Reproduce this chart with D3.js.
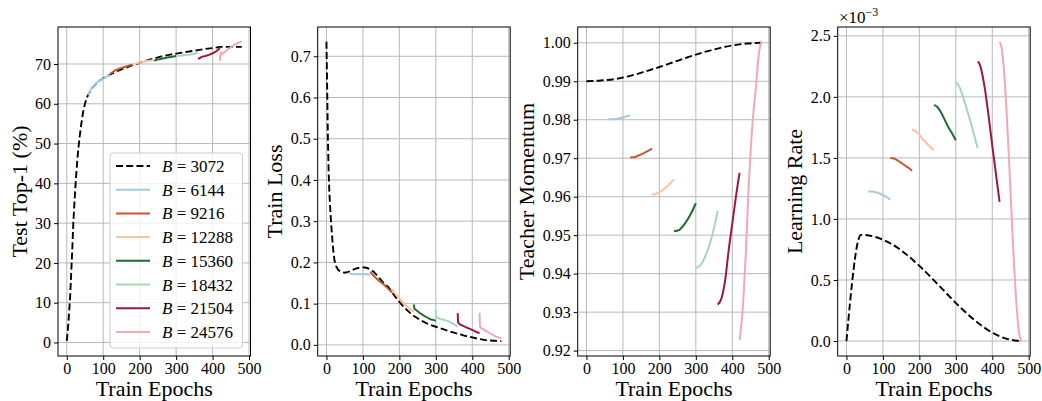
<!DOCTYPE html>
<html>
<head>
<meta charset="utf-8">
<script src="https://cdn.jsdelivr.net/npm/d3@7"></script>
<style>
  body { margin: 0; background: #fff; }
  svg { display: block; font-family: "Liberation Serif", "Times New Roman", serif; }
</style>
</head>
<body>
<svg width="1042" height="401"></svg>
<script>
// batch sizes, index 0 is the dashed baseline
const batchSizes = [3072, 6144, 9216, 12288, 15360, 18432, 21504, 24576];
const colors = ['#000000', '#a6c8e2', '#c9562c', '#fdc39f', '#1f6b34', '#a5d8b8', '#9c1a35', '#f4a8b2'];

// Test top-1 (%) as [epoch, value]
const top1 = [
  [[0,0.4],[3,3],[6,7],[9,11],[12,17],[15,23],[18,30],[21,35],[25,41],[30,47],[35,51.5],[40,55],[45,58],[50,60],[55,61.5],[60,62.5],[70,64],[80,65],[90,65.8],[100,66.4],[120,67.4],[140,68.3],[160,69],[180,69.7],[200,70.3],[220,70.9],[240,71.4],[260,71.9],[280,72.3],[300,72.6],[320,72.9],[340,73.2],[360,73.5],[380,73.8],[400,74.0],[420,74.3],[440,74.3],[460,74.3],[480,74.3]],
  [[58,62.2],[62,62.9],[66,63.6],[70,64.0],[75,64.6],[80,65.0],[85,65.5],[90,65.7],[95,66.1],[100,66.3],[105,66.6],[110,66.8],[115,67.1],[120,67.2]],
  [[120,67.6],[125,67.9],[130,68.2],[135,68.5],[140,68.6],[145,68.9],[150,69.0],[160,69.3],[170,69.6],[180,69.9]],
  [[180,69.8],[185,70.0],[190,70.1],[195,70.3],[200,70.3],[210,70.5],[220,70.8],[230,70.9],[240,71.1]],
  [[240,70.8],[245,71.0],[250,71.1],[260,71.3],[270,71.5],[280,71.7],[290,71.8],[300,72.0]],
  [[300,72.0],[310,72.1],[320,72.2],[330,72.3],[340,72.4],[350,72.6],[360,72.8]],
  [[360,71.3],[365,71.5],[370,71.8],[380,72.0],[390,72.3],[400,72.7],[410,73.2],[415,73.6],[420,74.0]],
  [[420,70.8],[421,72.2],[423,72.8],[426,72.4],[430,72.9],[435,73.1],[440,73.6],[450,74.2],[460,74.8],[470,75.3],[480,75.7]]
];

// Train loss
const trainLoss = [
  [[0,0.735],[2,0.62],[4,0.5],[6,0.42],[8,0.37],[11,0.32],[14,0.28],[18,0.235],[22,0.205],[27,0.19],[33,0.181],[40,0.177],[50,0.175],[60,0.177],[70,0.181],[80,0.185],[90,0.187],[100,0.188],[110,0.187],[120,0.183],[130,0.177],[140,0.167],[150,0.157],[160,0.147],[170,0.14],[180,0.128],[190,0.115],[200,0.104],[210,0.094],[220,0.085],[230,0.077],[240,0.07],[260,0.059],[280,0.05],[300,0.044],[320,0.038],[340,0.032],[360,0.027],[380,0.022],[400,0.018],[420,0.014],[440,0.011],[460,0.01],[480,0.009]],
  [[60,0.174],[70,0.172],[80,0.171],[90,0.172],[100,0.171],[110,0.172],[120,0.170]],
  [[120,0.177],[125,0.172],[135,0.163],[145,0.155],[155,0.148],[165,0.14],[175,0.131],[180,0.127]],
  [[180,0.135],[185,0.128],[195,0.118],[205,0.108],[215,0.098],[225,0.09],[235,0.083],[240,0.08]],
  [[240,0.098],[241,0.088],[245,0.085],[255,0.078],[265,0.072],[275,0.067],[285,0.062],[295,0.06],[300,0.058]],
  [[300,0.085],[301,0.068],[305,0.065],[315,0.062],[325,0.06],[335,0.057],[345,0.052],[355,0.047],[360,0.044]],
  [[360,0.077],[361,0.055],[365,0.05],[375,0.046],[385,0.042],[395,0.038],[405,0.034],[415,0.03],[420,0.028]],
  [[420,0.078],[421,0.045],[425,0.04],[435,0.035],[445,0.03],[455,0.025],[465,0.02],[475,0.017],[480,0.016]]
];

// Teacher momentum
const momentum = [
  [[0,0.990],[40,0.9902],[80,0.9906],[120,0.9914],[160,0.9925],[200,0.9937],[240,0.995],[280,0.9963],[320,0.9975],[360,0.9985],[400,0.9993],[440,0.9998],[480,1.0]],
  [[60,0.9801],[80,0.9802],[100,0.9806],[120,0.9812]],
  [[120,0.9702],[135,0.9704],[150,0.9710],[165,0.9717],[180,0.9725]],
  [[180,0.9606],[195,0.9609],[210,0.9618],[225,0.963],[240,0.9645]],
  [[240,0.951],[255,0.9514],[270,0.9530],[285,0.9553],[300,0.9583]],
  [[300,0.9414],[315,0.9425],[330,0.9455],[345,0.950],[360,0.9563]],
  [[360,0.932],[370,0.9335],[380,0.938],[390,0.946],[400,0.953],[410,0.960],[420,0.9662]],
  [[420,0.9227],[424,0.926],[428,0.930],[432,0.936],[438,0.947],[445,0.9627],[452,0.9745],[458,0.982],[465,0.9885],[470,0.9945],[475,0.9985],[480,1.0002]]
];

// Learning rate (x 1e-3)
const learningRate = [
  [[0,0.0],[40,0.870],[80,0.852],[120,0.801],[160,0.720],[200,0.616],[240,0.497],[280,0.373],[320,0.254],[360,0.150],[400,0.069],[440,0.018],[480,0.0]],
  [[60,1.225],[70,1.225],[80,1.22],[90,1.21],[100,1.195],[110,1.18],[120,1.158]],
  [[120,1.50],[130,1.495],[140,1.48],[150,1.46],[160,1.44],[170,1.42],[180,1.395]],
  [[180,1.73],[190,1.72],[200,1.69],[210,1.65],[220,1.62],[230,1.59],[240,1.56]],
  [[240,1.935],[250,1.915],[260,1.87],[270,1.81],[280,1.75],[290,1.70],[300,1.645]],
  [[300,2.12],[310,2.08],[320,2.0],[330,1.9],[340,1.8],[350,1.69],[360,1.58]],
  [[360,2.29],[365,2.27],[370,2.22],[380,2.06],[390,1.84],[400,1.60],[410,1.37],[420,1.14]],
  [[420,2.45],[425,2.41],[430,2.29],[435,2.09],[440,1.84],[445,1.54],[450,1.225],[455,0.91],[460,0.61],[465,0.36],[470,0.164],[475,0.042],[480,0.0]]
];

const xTicks = [0, 100, 200, 300, 400, 500];

const svg = d3.select('svg');
const plotTop = 27, plotBottom = 356, panelW = 192.5;
const serif = '"Liberation Serif", "Times New Roman", serif';

const panels = [
  { left: 58, data: top1, label: 'Test Top-1 (%)', labelX: 19, domain: [-3.4, 79.3], ticks: d3.range(0, 71, 10), fmt: d3.format('d'), curve: d3.curveLinear },
  { left: 317.7, data: trainLoss, label: 'Train Loss', labelX: 274, domain: [-0.027, 0.771], ticks: d3.range(0, 0.71, 0.1), fmt: d3.format('.1f'), curve: d3.curveLinear },
  { left: 577.7, data: momentum, label: 'Teacher Momentum', labelX: 526, domain: [0.9186, 1.0041], ticks: d3.range(0.92, 1.0001, 0.01), fmt: d3.format('.2f'), curve: d3.curveMonotoneX },
  { left: 837.7, data: learningRate, label: 'Learning Rate', labelX: 794, domain: [-0.1225, 2.5725], ticks: d3.range(0, 2.51, 0.5), fmt: d3.format('.1f'), curve: d3.curveMonotoneX }
];

panels.forEach(p => {
  const x = d3.scaleLinear().domain([-24, 504]).range([p.left, p.left + panelW]);
  const y = d3.scaleLinear().domain(p.domain).range([plotBottom, plotTop]);
  const g = svg.append('g');

  // grid
  g.selectAll('.vg').data(xTicks).join('line')
    .attr('x1', d => x(d)).attr('x2', d => x(d))
    .attr('y1', plotTop).attr('y2', plotBottom)
    .attr('stroke', '#b9b9b9').attr('stroke-width', 1);
  g.selectAll('.hg').data(p.ticks).join('line')
    .attr('x1', p.left).attr('x2', p.left + panelW)
    .attr('y1', d => y(d)).attr('y2', d => y(d))
    .attr('stroke', '#b9b9b9').attr('stroke-width', 1);

  // baseline first, larger batches drawn over it
  const line = d3.line().x(d => x(d[0])).y(d => y(d[1])).curve(p.curve);
  p.data.forEach((series, i) => {
    g.append('path')
      .attr('d', line(series))
      .attr('fill', 'none')
      .attr('stroke', colors[i])
      .attr('stroke-width', i === 0 ? 1.9 : 2)
      .attr('stroke-dasharray', i === 0 ? '7,3.2' : null);
  });

  // axes
  const xAxis = g.append('g').attr('transform', `translate(0,${plotBottom})`)
    .call(d3.axisBottom(x).tickValues(xTicks).tickSize(4).tickPadding(2.5).tickFormat(d3.format('d')));
  const yAxis = g.append('g').attr('transform', `translate(${p.left},0)`)
    .call(d3.axisLeft(y).tickValues(p.ticks).tickSize(4).tickPadding(3).tickFormat(p.fmt));
  [xAxis, yAxis].forEach(a => {
    a.attr('font-family', serif);
    a.select('.domain').remove();
    a.selectAll('text').attr('font-size', 16).attr('fill', '#000');
    a.selectAll('line').attr('stroke', '#000');
  });

  g.append('rect')
    .attr('x', p.left).attr('y', plotTop)
    .attr('width', panelW).attr('height', plotBottom - plotTop)
    .attr('fill', 'none').attr('stroke', '#000').attr('stroke-width', 1);

  g.append('text')
    .attr('x', p.left + panelW / 2).attr('y', 396)
    .attr('text-anchor', 'middle').attr('font-size', 22)
    .text('Train Epochs');

  g.append('text')
    .attr('transform', `translate(${p.labelX},${(plotTop + plotBottom) / 2}) rotate(-90)`)
    .attr('text-anchor', 'middle').attr('dominant-baseline', 'central')
    .attr('font-size', 22)
    .text(p.label);
});

// offset text for the learning rate panel
const off = svg.append('text').attr('x', 839).attr('y', 23).attr('font-size', 17);
off.append('tspan').text('×10');
off.append('tspan').attr('dy', -7).attr('font-size', 12).text('−3');

// legend in panel 1
const lg = svg.append('g');
lg.append('rect')
  .attr('x', 110).attr('y', 153).attr('width', 132.5).attr('height', 195)
  .attr('rx', 3).attr('fill', 'rgba(255,255,255,0.8)')
  .attr('stroke', '#cccccc').attr('stroke-width', 1);
batchSizes.forEach((b, i) => {
  const cy = 166 + i * 23.7;
  lg.append('line')
    .attr('x1', 116).attr('x2', 150).attr('y1', cy).attr('y2', cy)
    .attr('stroke', colors[i]).attr('stroke-width', 2)
    .attr('stroke-dasharray', i === 0 ? '7,3.2' : null);
  const t = lg.append('text').attr('x', 162).attr('y', cy + 6).attr('font-size', 17);
  t.append('tspan').attr('font-style', 'italic').text('B');
  t.append('tspan').text(' = ' + b);
});
</script>
</body>
</html>
